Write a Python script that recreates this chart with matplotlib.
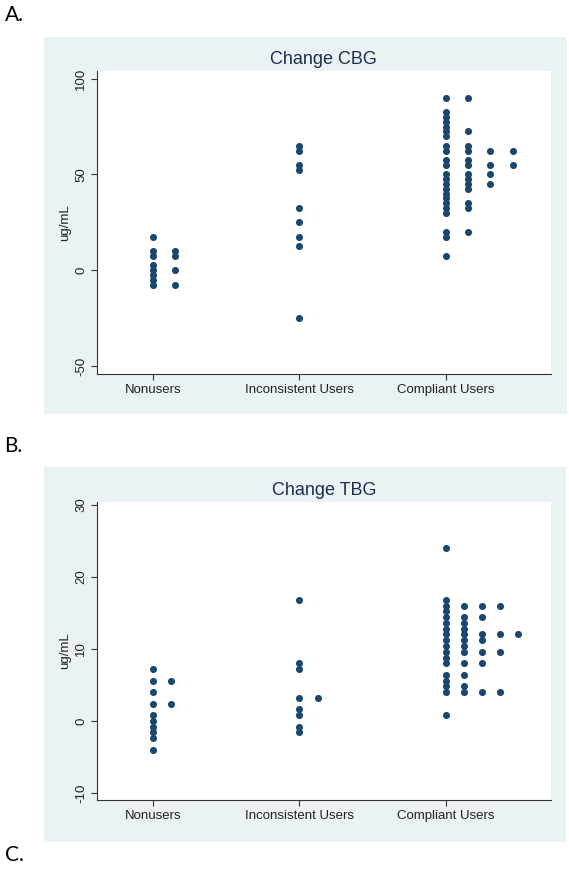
import matplotlib
matplotlib.use('Agg')
import matplotlib.pyplot as plt
from matplotlib.patches import Rectangle

plt.rcParams['font.family'] = ['Liberation Sans', 'DejaVu Sans']

groups = ['Nonusers', 'Inconsistent Users', 'Compliant Users']

# Panel A: change in CBG (ug/mL), binned values as plotted
cbg_nonusers = [17.5, 10, 10, 7.5, 7.5, 2.5, 0, 0, -2.5, -5, -7.5, -7.5]
cbg_inconsistent = [65, 62.5, 55, 52.5, 32.5, 25, 17.5, 12.5, -25]
cbg_compliant = [90, 90, 82.5, 80, 77.5, 75, 72.5, 72.5, 70,
                 65, 65, 62.5, 62.5, 62.5, 62.5, 57.5, 57.5, 55, 55, 55, 55,
                 50, 50, 50, 47.5, 47.5, 45, 45, 45, 42.5, 42.5, 40, 37.5,
                 35, 35, 32.5, 32.5, 30, 20, 20, 17.5, 7.5]

# Panel B: change in TBG (ug/mL)
tbg_nonusers = [7.2, 5.6, 5.6, 4.0, 2.4, 2.4, 0.8, 0, -0.8, -1.6, -2.4, -4.0]
tbg_inconsistent = [16.8, 8.0, 7.2, 3.2, 3.2, 1.6, 0.8, -0.8, -1.6]
tbg_compliant = [24.0, 16.8, 16.0, 16.0, 16.0, 16.0, 15.2, 14.4, 14.4, 14.4,
                 13.6, 13.6, 12.8, 12.8, 12.0, 12.0, 12.0, 12.0, 12.0,
                 11.2, 11.2, 11.2, 10.4, 10.4, 9.6, 9.6, 9.6, 9.6, 8.8,
                 8.0, 8.0, 8.0, 6.4, 6.4, 5.6, 4.8, 4.8, 4.0, 4.0, 4.0, 4.0, 0.8]

cbg_ticks = [-50, 0, 50, 100]
tbg_ticks = [-10, 0, 10, 20, 30]

BG = '#EAF2F3'
NAVY = '#1A476F'
TITLE = '#1E2D50'


def dot_x(values, center, step):
    seen = {}
    xs = []
    for v in values:
        k = seen.get(v, 0)
        xs.append(center + k * step)
        seen[v] = k + 1
    return xs


def panel(ax, data, title, ticks, ylim, step):
    for i, vals in enumerate(data):
        ax.scatter(dot_x(vals, i + 1, step), vals, s=26, color=NAVY,
                   linewidths=0, zorder=3, clip_on=False)
    ax.set_xlim(0.616, 3.717)
    ax.set_ylim(*ylim)
    ax.set_xticks([1, 2, 3])
    ax.set_xticklabels(groups)
    ax.set_yticks(ticks)
    ax.set_yticklabels([str(t) for t in ticks])
    ax.tick_params(axis='both', labelsize=9.5, length=4, width=0.8,
                   color='#333333', labelcolor='#222222', pad=3)
    ax.tick_params(axis='y', labelrotation=90)
    plt.setp(ax.get_yticklabels(), va='center')
    for s in ['top', 'right']:
        ax.spines[s].set_visible(False)
    for s in ['left', 'bottom']:
        ax.spines[s].set_color('#333333')
        ax.spines[s].set_linewidth(0.8)
    ax.set_facecolor('white')
    ax.set_title(title, fontsize=13, color=TITLE, pad=5)
    ax.set_ylabel('ug/mL', fontsize=9.5, color='#222222', labelpad=3)


fig = plt.figure(figsize=(5.69, 8.93), dpi=100)
fig.add_artist(Rectangle((0.0773, 0.5364), 0.9192, 0.4222, transform=fig.transFigure,
                         facecolor=BG, edgecolor='none', zorder=0))
fig.add_artist(Rectangle((0.0773, 0.0571), 0.9175, 0.4199, transform=fig.transFigure,
                         facecolor=BG, edgecolor='none', zorder=0))

ax1 = fig.add_axes([0.170, 0.5812, 0.798, 0.3396])
panel(ax1, [cbg_nonusers, cbg_inconsistent, cbg_compliant], 'Change CBG',
      cbg_ticks, (-54.2, 104.2), 0.152)

ax2 = fig.add_axes([0.170, 0.1041, 0.798, 0.3337])
panel(ax2, [tbg_nonusers, tbg_inconsistent, tbg_compliant], 'Change TBG',
      tbg_ticks, (-11.0, 30.4), 0.124)

for lbl, y in [('A.', 0.983), ('B.', 0.500), ('C.', 0.043)]:
    fig.text(0.008, y, lbl, fontsize=15, family=['Lato', 'DejaVu Sans'],
             va='center', ha='left', color='black')

fig.savefig('out.png', dpi=100)
